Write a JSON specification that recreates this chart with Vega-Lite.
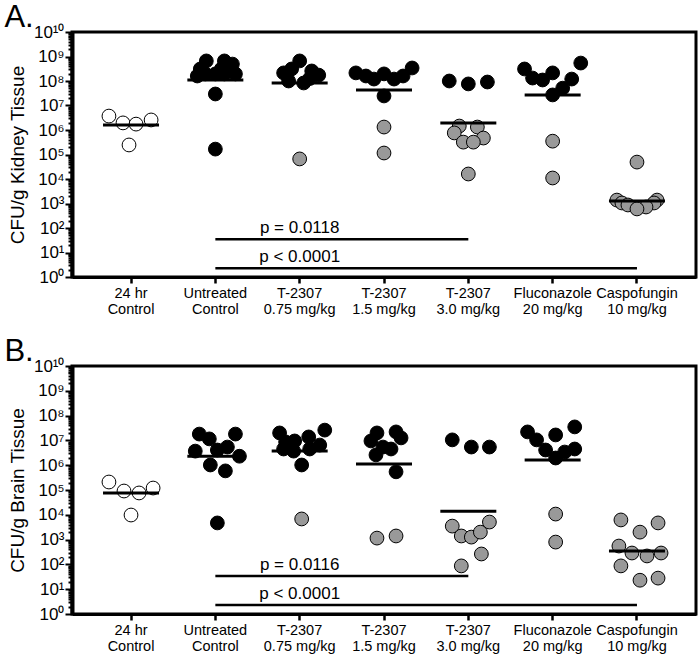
{
  "$schema": "https://vega.github.io/schema/vega-lite/v6.json",
  "padding": {"left": 2, "top": 0, "right": 4, "bottom": 0},
  "spacing": 17,
  "config": {
    "font": "Liberation Sans",
    "view": {"stroke": "black", "strokeWidth": 3},
    "axis": {"domainColor": "black", "tickColor": "black", "labelColor": "black", "titleColor": "black", "titleFontWeight": "normal", "grid": false},
    "title": {"fontWeight": "normal", "color": "black"}
  },
  "datasets": {
    "ptsA": [
      {"group": "24 hr|Control", "jitter": -22, "cfu": 3.7e6, "kind": "open"},
      {"group": "24 hr|Control", "jitter": -8, "cfu": 1.95e6, "kind": "open"},
      {"group": "24 hr|Control", "jitter": 5, "cfu": 1.74e6, "kind": "open"},
      {"group": "24 hr|Control", "jitter": 20, "cfu": 2.57e6, "kind": "open"},
      {"group": "24 hr|Control", "jitter": -2, "cfu": 2.45e5, "kind": "open"},
      {"group": "Untreated|Control", "jitter": -9, "cfu": 6.6e8, "kind": "black"},
      {"group": "Untreated|Control", "jitter": 9, "cfu": 6.6e8, "kind": "black"},
      {"group": "Untreated|Control", "jitter": 17, "cfu": 4.9e8, "kind": "black"},
      {"group": "Untreated|Control", "jitter": -15, "cfu": 3.1e8, "kind": "black"},
      {"group": "Untreated|Control", "jitter": 6, "cfu": 3.1e8, "kind": "black"},
      {"group": "Untreated|Control", "jitter": -18, "cfu": 1.6e8, "kind": "black"},
      {"group": "Untreated|Control", "jitter": -10, "cfu": 1.95e8, "kind": "black"},
      {"group": "Untreated|Control", "jitter": 0, "cfu": 1.95e8, "kind": "black"},
      {"group": "Untreated|Control", "jitter": 9, "cfu": 1.95e8, "kind": "black"},
      {"group": "Untreated|Control", "jitter": 20, "cfu": 1.95e8, "kind": "black"},
      {"group": "Untreated|Control", "jitter": 0, "cfu": 2.95e7, "kind": "black"},
      {"group": "Untreated|Control", "jitter": 0, "cfu": 1.66e5, "kind": "black"},
      {"group": "T-2307|0.75 mg/kg", "jitter": -16, "cfu": 2.14e8, "kind": "black"},
      {"group": "T-2307|0.75 mg/kg", "jitter": -8, "cfu": 3.1e8, "kind": "black"},
      {"group": "T-2307|0.75 mg/kg", "jitter": 0, "cfu": 6.6e8, "kind": "black"},
      {"group": "T-2307|0.75 mg/kg", "jitter": 12, "cfu": 2.57e8, "kind": "black"},
      {"group": "T-2307|0.75 mg/kg", "jitter": 19, "cfu": 1.74e8, "kind": "black"},
      {"group": "T-2307|0.75 mg/kg", "jitter": -11, "cfu": 1.0e8, "kind": "black"},
      {"group": "T-2307|0.75 mg/kg", "jitter": 4, "cfu": 8.3e7, "kind": "black"},
      {"group": "T-2307|0.75 mg/kg", "jitter": 10, "cfu": 1.26e8, "kind": "black"},
      {"group": "T-2307|0.75 mg/kg", "jitter": 0, "cfu": 6.6e4, "kind": "gray"},
      {"group": "T-2307|1.5 mg/kg", "jitter": -28, "cfu": 2.14e8, "kind": "black"},
      {"group": "T-2307|1.5 mg/kg", "jitter": -18, "cfu": 1.6e8, "kind": "black"},
      {"group": "T-2307|1.5 mg/kg", "jitter": -10, "cfu": 1.2e8, "kind": "black"},
      {"group": "T-2307|1.5 mg/kg", "jitter": 0, "cfu": 1.95e8, "kind": "black"},
      {"group": "T-2307|1.5 mg/kg", "jitter": 10, "cfu": 1.2e8, "kind": "black"},
      {"group": "T-2307|1.5 mg/kg", "jitter": 19, "cfu": 1.6e8, "kind": "black"},
      {"group": "T-2307|1.5 mg/kg", "jitter": 28, "cfu": 3.4e8, "kind": "black"},
      {"group": "T-2307|1.5 mg/kg", "jitter": 0, "cfu": 2.45e7, "kind": "black"},
      {"group": "T-2307|1.5 mg/kg", "jitter": 0, "cfu": 1.32e6, "kind": "gray"},
      {"group": "T-2307|1.5 mg/kg", "jitter": 0, "cfu": 1.15e5, "kind": "gray"},
      {"group": "T-2307|3.0 mg/kg", "jitter": -19, "cfu": 1.0e8, "kind": "black"},
      {"group": "T-2307|3.0 mg/kg", "jitter": 0, "cfu": 7.6e7, "kind": "black"},
      {"group": "T-2307|3.0 mg/kg", "jitter": 19, "cfu": 9.1e7, "kind": "black"},
      {"group": "T-2307|3.0 mg/kg", "jitter": -9, "cfu": 1.45e6, "kind": "gray"},
      {"group": "T-2307|3.0 mg/kg", "jitter": 9, "cfu": 1.32e6, "kind": "gray"},
      {"group": "T-2307|3.0 mg/kg", "jitter": -14, "cfu": 7.6e5, "kind": "gray"},
      {"group": "T-2307|3.0 mg/kg", "jitter": 15, "cfu": 4.7e5, "kind": "gray"},
      {"group": "T-2307|3.0 mg/kg", "jitter": -5, "cfu": 3.2e5, "kind": "gray"},
      {"group": "T-2307|3.0 mg/kg", "jitter": 5, "cfu": 3.2e5, "kind": "gray"},
      {"group": "T-2307|3.0 mg/kg", "jitter": 0, "cfu": 1.6e4, "kind": "gray"},
      {"group": "Fluconazole|20 mg/kg", "jitter": -28, "cfu": 3.1e8, "kind": "black"},
      {"group": "Fluconazole|20 mg/kg", "jitter": -20, "cfu": 1.32e8, "kind": "black"},
      {"group": "Fluconazole|20 mg/kg", "jitter": -10, "cfu": 1.1e8, "kind": "black"},
      {"group": "Fluconazole|20 mg/kg", "jitter": 0, "cfu": 2.14e8, "kind": "black"},
      {"group": "Fluconazole|20 mg/kg", "jitter": 28, "cfu": 5.4e8, "kind": "black"},
      {"group": "Fluconazole|20 mg/kg", "jitter": 19, "cfu": 1.2e8, "kind": "black"},
      {"group": "Fluconazole|20 mg/kg", "jitter": 10, "cfu": 5.1e7, "kind": "black"},
      {"group": "Fluconazole|20 mg/kg", "jitter": 0, "cfu": 2.7e7, "kind": "black"},
      {"group": "Fluconazole|20 mg/kg", "jitter": 0, "cfu": 3.5e5, "kind": "gray"},
      {"group": "Fluconazole|20 mg/kg", "jitter": 0, "cfu": 1.1e4, "kind": "gray"},
      {"group": "Caspofungin|10 mg/kg", "jitter": 0, "cfu": 4.9e4, "kind": "gray"},
      {"group": "Caspofungin|10 mg/kg", "jitter": -20, "cfu": 1380, "kind": "gray"},
      {"group": "Caspofungin|10 mg/kg", "jitter": -15, "cfu": 1050, "kind": "gray"},
      {"group": "Caspofungin|10 mg/kg", "jitter": 20, "cfu": 1380, "kind": "gray"},
      {"group": "Caspofungin|10 mg/kg", "jitter": 17, "cfu": 1050, "kind": "gray"},
      {"group": "Caspofungin|10 mg/kg", "jitter": -9, "cfu": 870, "kind": "gray"},
      {"group": "Caspofungin|10 mg/kg", "jitter": 9, "cfu": 720, "kind": "gray"},
      {"group": "Caspofungin|10 mg/kg", "jitter": 0, "cfu": 600, "kind": "gray"}
    ],
    "meanA": [
      {"group": "24 hr|Control", "mean": 1.6e6},
      {"group": "Untreated|Control", "mean": 1.1e8},
      {"group": "T-2307|0.75 mg/kg", "mean": 8.3e7},
      {"group": "T-2307|1.5 mg/kg", "mean": 4.3e7},
      {"group": "T-2307|3.0 mg/kg", "mean": 1.95e6},
      {"group": "Fluconazole|20 mg/kg", "mean": 2.7e7},
      {"group": "Caspofungin|10 mg/kg", "mean": 1260}
    ],
    "sigA": [
      {"from": "Untreated|Control", "to": "T-2307|3.0 mg/kg", "labelAt": "T-2307|0.75 mg/kg", "level": 35, "label": "p = 0.0118"},
      {"from": "Untreated|Control", "to": "Caspofungin|10 mg/kg", "labelAt": "T-2307|0.75 mg/kg", "level": 2.3, "label": "p < 0.0001"}
    ],
    "ptsB": [
      {"group": "24 hr|Control", "jitter": -22, "cfu": 2.1e5, "kind": "open"},
      {"group": "24 hr|Control", "jitter": -7, "cfu": 9.1e4, "kind": "open"},
      {"group": "24 hr|Control", "jitter": 8, "cfu": 7.6e4, "kind": "open"},
      {"group": "24 hr|Control", "jitter": 22, "cfu": 1.2e5, "kind": "open"},
      {"group": "24 hr|Control", "jitter": 0, "cfu": 9.8e3, "kind": "open"},
      {"group": "Untreated|Control", "jitter": -16, "cfu": 1.8e7, "kind": "black"},
      {"group": "Untreated|Control", "jitter": -6, "cfu": 1.15e7, "kind": "black"},
      {"group": "Untreated|Control", "jitter": 20, "cfu": 1.8e7, "kind": "black"},
      {"group": "Untreated|Control", "jitter": -20, "cfu": 3.7e6, "kind": "black"},
      {"group": "Untreated|Control", "jitter": 2, "cfu": 4.1e6, "kind": "black"},
      {"group": "Untreated|Control", "jitter": 12, "cfu": 5.4e6, "kind": "black"},
      {"group": "Untreated|Control", "jitter": 24, "cfu": 2.3e6, "kind": "black"},
      {"group": "Untreated|Control", "jitter": -5, "cfu": 1.02e6, "kind": "black"},
      {"group": "Untreated|Control", "jitter": 10, "cfu": 5.9e5, "kind": "black"},
      {"group": "Untreated|Control", "jitter": 2, "cfu": 4.7e3, "kind": "black"},
      {"group": "T-2307|0.75 mg/kg", "jitter": -20, "cfu": 2.0e7, "kind": "black"},
      {"group": "T-2307|0.75 mg/kg", "jitter": -14, "cfu": 8.7e6, "kind": "black"},
      {"group": "T-2307|0.75 mg/kg", "jitter": -5, "cfu": 9.5e6, "kind": "black"},
      {"group": "T-2307|0.75 mg/kg", "jitter": 9, "cfu": 1.38e7, "kind": "black"},
      {"group": "T-2307|0.75 mg/kg", "jitter": 25, "cfu": 2.6e7, "kind": "black"},
      {"group": "T-2307|0.75 mg/kg", "jitter": -16, "cfu": 4.5e6, "kind": "black"},
      {"group": "T-2307|0.75 mg/kg", "jitter": -6, "cfu": 3.7e6, "kind": "black"},
      {"group": "T-2307|0.75 mg/kg", "jitter": 10, "cfu": 4.5e6, "kind": "black"},
      {"group": "T-2307|0.75 mg/kg", "jitter": 20, "cfu": 6.5e6, "kind": "black"},
      {"group": "T-2307|0.75 mg/kg", "jitter": 2, "cfu": 1.02e6, "kind": "black"},
      {"group": "T-2307|0.75 mg/kg", "jitter": 2, "cfu": 6.8e3, "kind": "gray"},
      {"group": "T-2307|1.5 mg/kg", "jitter": -7, "cfu": 2.0e7, "kind": "black"},
      {"group": "T-2307|1.5 mg/kg", "jitter": 12, "cfu": 2.2e7, "kind": "black"},
      {"group": "T-2307|1.5 mg/kg", "jitter": -13, "cfu": 9.5e6, "kind": "black"},
      {"group": "T-2307|1.5 mg/kg", "jitter": 17, "cfu": 1.26e7, "kind": "black"},
      {"group": "T-2307|1.5 mg/kg", "jitter": -1, "cfu": 5.4e6, "kind": "black"},
      {"group": "T-2307|1.5 mg/kg", "jitter": 7, "cfu": 4.5e6, "kind": "black"},
      {"group": "T-2307|1.5 mg/kg", "jitter": -8, "cfu": 2.6e6, "kind": "black"},
      {"group": "T-2307|1.5 mg/kg", "jitter": 12, "cfu": 5.4e5, "kind": "black"},
      {"group": "T-2307|1.5 mg/kg", "jitter": -7, "cfu": 1150, "kind": "gray"},
      {"group": "T-2307|1.5 mg/kg", "jitter": 12, "cfu": 1400, "kind": "gray"},
      {"group": "T-2307|3.0 mg/kg", "jitter": -16, "cfu": 1.05e7, "kind": "black"},
      {"group": "T-2307|3.0 mg/kg", "jitter": 3, "cfu": 5.4e6, "kind": "black"},
      {"group": "T-2307|3.0 mg/kg", "jitter": 21, "cfu": 5.4e6, "kind": "black"},
      {"group": "T-2307|3.0 mg/kg", "jitter": -16, "cfu": 3500, "kind": "gray"},
      {"group": "T-2307|3.0 mg/kg", "jitter": -7, "cfu": 1400, "kind": "gray"},
      {"group": "T-2307|3.0 mg/kg", "jitter": 3, "cfu": 1260, "kind": "gray"},
      {"group": "T-2307|3.0 mg/kg", "jitter": 12, "cfu": 2000, "kind": "gray"},
      {"group": "T-2307|3.0 mg/kg", "jitter": 21, "cfu": 5100, "kind": "gray"},
      {"group": "T-2307|3.0 mg/kg", "jitter": 13, "cfu": 263, "kind": "gray"},
      {"group": "T-2307|3.0 mg/kg", "jitter": -7, "cfu": 87, "kind": "gray"},
      {"group": "Fluconazole|20 mg/kg", "jitter": -25, "cfu": 2.2e7, "kind": "black"},
      {"group": "Fluconazole|20 mg/kg", "jitter": -16, "cfu": 1.05e7, "kind": "black"},
      {"group": "Fluconazole|20 mg/kg", "jitter": 3, "cfu": 1.66e7, "kind": "black"},
      {"group": "Fluconazole|20 mg/kg", "jitter": 22, "cfu": 3.5e7, "kind": "black"},
      {"group": "Fluconazole|20 mg/kg", "jitter": -7, "cfu": 4.1e6, "kind": "black"},
      {"group": "Fluconazole|20 mg/kg", "jitter": 22, "cfu": 4.5e6, "kind": "black"},
      {"group": "Fluconazole|20 mg/kg", "jitter": 12, "cfu": 3.4e6, "kind": "black"},
      {"group": "Fluconazole|20 mg/kg", "jitter": 3, "cfu": 1.95e6, "kind": "black"},
      {"group": "Fluconazole|20 mg/kg", "jitter": 3, "cfu": 1.07e4, "kind": "gray"},
      {"group": "Fluconazole|20 mg/kg", "jitter": 3, "cfu": 794, "kind": "gray"},
      {"group": "Caspofungin|10 mg/kg", "jitter": -16, "cfu": 6200, "kind": "gray"},
      {"group": "Caspofungin|10 mg/kg", "jitter": 21, "cfu": 4700, "kind": "gray"},
      {"group": "Caspofungin|10 mg/kg", "jitter": 3, "cfu": 2000, "kind": "gray"},
      {"group": "Caspofungin|10 mg/kg", "jitter": -18, "cfu": 550, "kind": "gray"},
      {"group": "Caspofungin|10 mg/kg", "jitter": -5, "cfu": 288, "kind": "gray"},
      {"group": "Caspofungin|10 mg/kg", "jitter": 10, "cfu": 219, "kind": "gray"},
      {"group": "Caspofungin|10 mg/kg", "jitter": 24, "cfu": 288, "kind": "gray"},
      {"group": "Caspofungin|10 mg/kg", "jitter": -16, "cfu": 87, "kind": "gray"},
      {"group": "Caspofungin|10 mg/kg", "jitter": 3, "cfu": 23, "kind": "gray"},
      {"group": "Caspofungin|10 mg/kg", "jitter": 21, "cfu": 28, "kind": "gray"}
    ],
    "meanB": [
      {"group": "24 hr|Control", "mean": 7.6e4},
      {"group": "Untreated|Control", "mean": 2.3e6},
      {"group": "T-2307|0.75 mg/kg", "mean": 3.7e6},
      {"group": "T-2307|1.5 mg/kg", "mean": 1.12e6},
      {"group": "T-2307|3.0 mg/kg", "mean": 1.4e4},
      {"group": "Fluconazole|20 mg/kg", "mean": 1.62e6},
      {"group": "Caspofungin|10 mg/kg", "mean": 347}
    ],
    "sigB": [
      {"from": "Untreated|Control", "to": "T-2307|3.0 mg/kg", "labelAt": "T-2307|0.75 mg/kg", "level": 34, "label": "p = 0.0116"},
      {"from": "Untreated|Control", "to": "Caspofungin|10 mg/kg", "labelAt": "T-2307|0.75 mg/kg", "level": 2.3, "label": "p < 0.0001"}
    ]
  },
  "vconcat": [
    {
      "title": {"text": "A.", "anchor": "start", "frame": "bounds", "fontSize": 31, "offset": -11, "dx": -4},
      "width": 624,
      "height": 245,
      "layer": [
        {
          "data": {"name": "ptsA"},
          "mark": {"type": "circle", "size": 190, "stroke": "black", "strokeWidth": 1, "opacity": 1},
          "encoding": {
            "x": {"field": "group", "type": "nominal",
              "scale": {"domain": ["24 hr|Control", "Untreated|Control", "T-2307|0.75 mg/kg", "T-2307|1.5 mg/kg", "T-2307|3.0 mg/kg", "Fluconazole|20 mg/kg", "Caspofungin|10 mg/kg"], "paddingInner": 0, "paddingOuter": 0.2},
              "axis": {"title": null, "labelExpr": "split(datum.label, '|')", "labelAngle": 0, "labelFontSize": 14.5, "labelLineHeight": 16, "tickSize": 6, "tickWidth": 2.5, "domainWidth": 3, "labelPadding": 3}},
            "xOffset": {"field": "jitter", "type": "quantitative", "scale": {"domain": [-42, 42]}},
            "y": {"field": "cfu", "type": "quantitative",
              "scale": {"type": "log", "domain": [1, 10000000000]},
              "axis": {
                "title": "CFU/g Kidney Tissue",
                "values": [1,2,3,4,5,6,7,8,9,10,20,30,40,50,60,70,80,90,100,200,300,400,500,600,700,800,900,1000,2000,3000,4000,5000,6000,7000,8000,9000,10000,20000,30000,40000,50000,60000,70000,80000,90000,100000,200000,300000,400000,500000,600000,700000,800000,900000,1000000,2000000,3000000,4000000,5000000,6000000,7000000,8000000,9000000,10000000,20000000,30000000,40000000,50000000,60000000,70000000,80000000,90000000,100000000,200000000,300000000,400000000,500000000,600000000,700000000,800000000,900000000,1000000000,2000000000,3000000000,4000000000,5000000000,6000000000,7000000000,8000000000,9000000000,10000000000],
                "labelExpr": "abs(log(datum.value)/LN10 - round(log(datum.value)/LN10)) < 0.001 ? '10' + (round(log(datum.value)/LN10) == 10 ? '¹⁰' : substring('⁰¹²³⁴⁵⁶⁷⁸⁹', round(log(datum.value)/LN10), round(log(datum.value)/LN10) + 1)) : ''",
                "labelOverlap": false,
                "labelFontSize": 17,
                "labelPadding": 1,
                "tickSize": {"condition": {"test": "abs(log(datum.value)/LN10 - round(log(datum.value)/LN10)) < 0.001", "value": 7}, "value": 4},
                "tickWidth": 2,
                "domainWidth": 4,
                "titleFontSize": 19,
                "titlePadding": 6
              }},
            "fill": {"field": "kind", "type": "nominal", "scale": {"domain": ["open", "black", "gray"], "range": ["white", "black", "#999999"]}, "legend": null}
          }
        },
        {
          "data": {"name": "meanA"},
          "mark": {"type": "tick", "size": 56, "thickness": 3, "color": "black", "opacity": 1},
          "encoding": {
            "x": {"field": "group", "type": "nominal"},
            "y": {"field": "mean", "type": "quantitative"}
          }
        },
        {
          "data": {"name": "sigA"},
          "mark": {"type": "rule", "strokeWidth": 2.5, "color": "black"},
          "encoding": {
            "x": {"field": "from", "type": "nominal"},
            "x2": {"field": "to"},
            "y": {"field": "level", "type": "quantitative"}
          }
        },
        {
          "data": {"name": "sigA"},
          "mark": {"type": "text", "baseline": "bottom", "dy": -2, "fontSize": 17, "color": "black"},
          "encoding": {
            "x": {"field": "labelAt", "type": "nominal"},
            "y": {"field": "level", "type": "quantitative"},
            "text": {"field": "label"}
          }
        }
      ]
    },
    {
      "title": {"text": "B.", "anchor": "start", "frame": "bounds", "fontSize": 31, "offset": -11, "dx": -4},
      "width": 624,
      "height": 248,
      "layer": [
        {
          "data": {"name": "ptsB"},
          "mark": {"type": "circle", "size": 190, "stroke": "black", "strokeWidth": 1, "opacity": 1},
          "encoding": {
            "x": {"field": "group", "type": "nominal",
              "scale": {"domain": ["24 hr|Control", "Untreated|Control", "T-2307|0.75 mg/kg", "T-2307|1.5 mg/kg", "T-2307|3.0 mg/kg", "Fluconazole|20 mg/kg", "Caspofungin|10 mg/kg"], "paddingInner": 0, "paddingOuter": 0.2},
              "axis": {"title": null, "labelExpr": "split(datum.label, '|')", "labelAngle": 0, "labelFontSize": 14.5, "labelLineHeight": 16, "tickSize": 6, "tickWidth": 2.5, "domainWidth": 3, "labelPadding": 3}},
            "xOffset": {"field": "jitter", "type": "quantitative", "scale": {"domain": [-42, 42]}},
            "y": {"field": "cfu", "type": "quantitative",
              "scale": {"type": "log", "domain": [1, 10000000000]},
              "axis": {
                "title": "CFU/g Brain Tissue",
                "values": [1,2,3,4,5,6,7,8,9,10,20,30,40,50,60,70,80,90,100,200,300,400,500,600,700,800,900,1000,2000,3000,4000,5000,6000,7000,8000,9000,10000,20000,30000,40000,50000,60000,70000,80000,90000,100000,200000,300000,400000,500000,600000,700000,800000,900000,1000000,2000000,3000000,4000000,5000000,6000000,7000000,8000000,9000000,10000000,20000000,30000000,40000000,50000000,60000000,70000000,80000000,90000000,100000000,200000000,300000000,400000000,500000000,600000000,700000000,800000000,900000000,1000000000,2000000000,3000000000,4000000000,5000000000,6000000000,7000000000,8000000000,9000000000,10000000000],
                "labelExpr": "abs(log(datum.value)/LN10 - round(log(datum.value)/LN10)) < 0.001 ? '10' + (round(log(datum.value)/LN10) == 10 ? '¹⁰' : substring('⁰¹²³⁴⁵⁶⁷⁸⁹', round(log(datum.value)/LN10), round(log(datum.value)/LN10) + 1)) : ''",
                "labelOverlap": false,
                "labelFontSize": 17,
                "labelPadding": 1,
                "tickSize": {"condition": {"test": "abs(log(datum.value)/LN10 - round(log(datum.value)/LN10)) < 0.001", "value": 7}, "value": 4},
                "tickWidth": 2,
                "domainWidth": 4,
                "titleFontSize": 19,
                "titlePadding": 6
              }},
            "fill": {"field": "kind", "type": "nominal", "scale": {"domain": ["open", "black", "gray"], "range": ["white", "black", "#999999"]}, "legend": null}
          }
        },
        {
          "data": {"name": "meanB"},
          "mark": {"type": "tick", "size": 56, "thickness": 3, "color": "black", "opacity": 1},
          "encoding": {
            "x": {"field": "group", "type": "nominal"},
            "y": {"field": "mean", "type": "quantitative"}
          }
        },
        {
          "data": {"name": "sigB"},
          "mark": {"type": "rule", "strokeWidth": 2.5, "color": "black"},
          "encoding": {
            "x": {"field": "from", "type": "nominal"},
            "x2": {"field": "to"},
            "y": {"field": "level", "type": "quantitative"}
          }
        },
        {
          "data": {"name": "sigB"},
          "mark": {"type": "text", "baseline": "bottom", "dy": -2, "fontSize": 17, "color": "black"},
          "encoding": {
            "x": {"field": "labelAt", "type": "nominal"},
            "y": {"field": "level", "type": "quantitative"},
            "text": {"field": "label"}
          }
        }
      ]
    }
  ]
}
